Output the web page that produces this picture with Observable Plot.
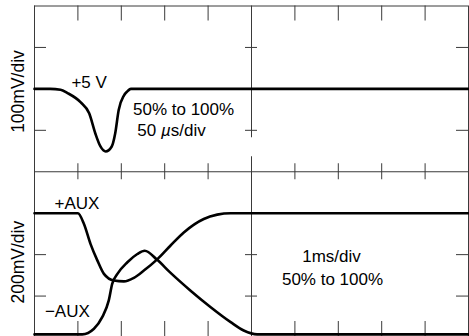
<!DOCTYPE html>
<html>
<head>
<meta charset="utf-8">
<script src="https://cdn.jsdelivr.net/npm/d3@7"></script>
<script src="https://cdn.jsdelivr.net/npm/@observablehq/plot@0.6"></script>
<style>
  html, body { margin: 0; padding: 0; background: white; overflow: hidden; }
</style>
</head>
<body>
<div id="chart"></div>
<script>
// Graticule: 10 horizontal divisions, 8 vertical divisions (two 4-division panels)
const xDivs = [1, 2, 3, 4, 6, 7, 8, 9];
const yDivs = [1, 2, 3, 5, 6, 7];

// Top panel: +5 V rail, 50 µs/div, 100 mV/div (relative to +5 V)
const pulseTimeUs = [0, 18, 30, 38, 53, 63, 70, 76, 82, 89, 93, 97, 103, 107, 111, 500];
const pulseMv     = [0, 0, -2, -10, -32, -59, -107, -139, -151, -139, -107, -51, -16, -6, 0, 0];

// Bottom panel: ±AUX rails, 1 ms/div, 200 mV/div
const plusAuxMs  = [0, 1.0, 1.14, 1.29, 1.45, 1.6, 1.83, 2.06, 2.29, 2.52, 2.82, 3.13, 3.44, 3.9, 4.21, 4.52, 10];
const plusAuxMv  = [200, 200, 148, 52, -29, -93, -125, -129, -112, -77, -24, 43, 107, 172, 193, 200, 200];
const minusAuxMs = [0, 1.1, 1.37, 1.56, 1.71, 1.79, 1.91, 2.14, 2.37, 2.54, 2.82, 3.13, 3.59, 4.06, 4.52, 4.82, 5.13, 10];
const minusAuxMv = [-385, -385, -358, -302, -222, -141, -93, -37, 3, 19, -24, -87, -173, -254, -326, -366, -385, -385];

// Convert to graticule divisions
const pulse = pulseTimeUs.map((t, i) => ({x: t / 50, y: 6 + pulseMv[i] / 100}));
const plusAux = plusAuxMs.map((t, i) => ({x: t, y: 2 + plusAuxMv[i] / 200}));
const minusAux = minusAuxMs.map((t, i) => ({x: t, y: 2 + minusAuxMv[i] / 200}));

const grid = "#3a3a3a";
const trace = {x: "x", y: "y", curve: "monotone-x", stroke: "black", strokeWidth: 2.6, strokeLinejoin: "round"};
const txt = {fill: "black", fontSize: 17, lineAnchor: "bottom"};

const chart = Plot.plot({
  width: 469,
  height: 336,
  marginLeft: 34,
  marginRight: 1,
  marginTop: 5,
  marginBottom: 0,
  style: {fontFamily: "Liberation Sans, Arial, Helvetica, sans-serif", background: "white"},
  x: {domain: [0, 10], range: [34, 468], axis: null},
  y: {domain: [0, 8], range: [337, 5.5], axis: null},
  marks: [
    // frame
    Plot.ruleY([0, 8], {x1: 0, x2: 10, stroke: grid}),
    Plot.ruleX([0, 10], {y1: 0, y2: 8, stroke: grid}),
    // separator between panels
    Plot.ruleY([4], {x1: 0, x2: 10, stroke: grid}),
    // centre vertical line (two segments)
    Plot.ruleX([5], {y1: 0, y2: 4, insetBottom: 15, stroke: grid}),
    Plot.ruleX([5], {y1: 4, y2: 8, insetTop: -34, stroke: grid}),
    // ticks on top border, separator and bottom border
    Plot.ruleX(xDivs, {y1: 8, y2: 8, insetTop: 15, stroke: grid}),
    Plot.ruleX(xDivs, {y1: 4, y2: 4, insetTop: 8, insetBottom: 8, stroke: grid}),
    Plot.ruleX(xDivs, {y1: 0, y2: 0, insetBottom: 16, stroke: grid}),
    // ticks on left border, centre line and right border
    Plot.ruleY(yDivs, {x1: 0, x2: 0, insetLeft: 12, stroke: grid}),
    Plot.ruleY(yDivs, {x1: 5, x2: 5, insetLeft: 6, insetRight: 6, stroke: grid}),
    Plot.ruleY(yDivs, {x1: 10, x2: 10, insetRight: 12, stroke: grid}),
    // traces
    Plot.line(pulse, trace),
    Plot.line(plusAux, trace),
    Plot.line(minusAux, trace),
    // vertical scale labels
    Plot.text(["100mV/div"], {...txt, fontSize: 17.5, frameAnchor: "left", y: [5.936], dx: -11, rotate: -90, textAnchor: "middle"}),
    Plot.text(["200mV/div"], {...txt, fontSize: 17.5, frameAnchor: "left", y: [1.817], dx: -11, rotate: -90, textAnchor: "middle"}),
    // annotations
    Plot.text(["+5 V"], {...txt, x: [0.85], y: [6.02], textAnchor: "start"}),
    Plot.text(["50% to 100%"], {...txt, x: [2.27], y: [5.381], textAnchor: "start"}),
    Plot.text(["50 µs/div"], {...txt, x: [2.37], y: [4.858], textAnchor: "start"}),
    Plot.text(["+AUX"], {...txt, x: [0.46], y: [3.106], textAnchor: "start"}),
    Plot.text(["\u2212AUX"], {...txt, x: [0.24], y: [0.49], textAnchor: "start"}),
    Plot.text(["1ms/div"], {...txt, x: [6.843], y: [1.817], textAnchor: "middle"}),
    Plot.text(["50% to 100%"], {...txt, x: [6.866], y: [1.279], textAnchor: "middle"})
  ]
});

// italic µ
chart.querySelectorAll("text").forEach(t => {
  if (t.textContent === "50 µs/div") {
    t.textContent = "";
    const ns = "http://www.w3.org/2000/svg";
    const a = document.createElementNS(ns, "tspan"); a.textContent = "50 ";
    const b = document.createElementNS(ns, "tspan"); b.textContent = "µ"; b.setAttribute("font-style", "italic");
    const c = document.createElementNS(ns, "tspan"); c.textContent = "s/div";
    t.append(a, b, c);
  }
});

document.getElementById("chart").appendChild(chart);
</script>
</body>
</html>
